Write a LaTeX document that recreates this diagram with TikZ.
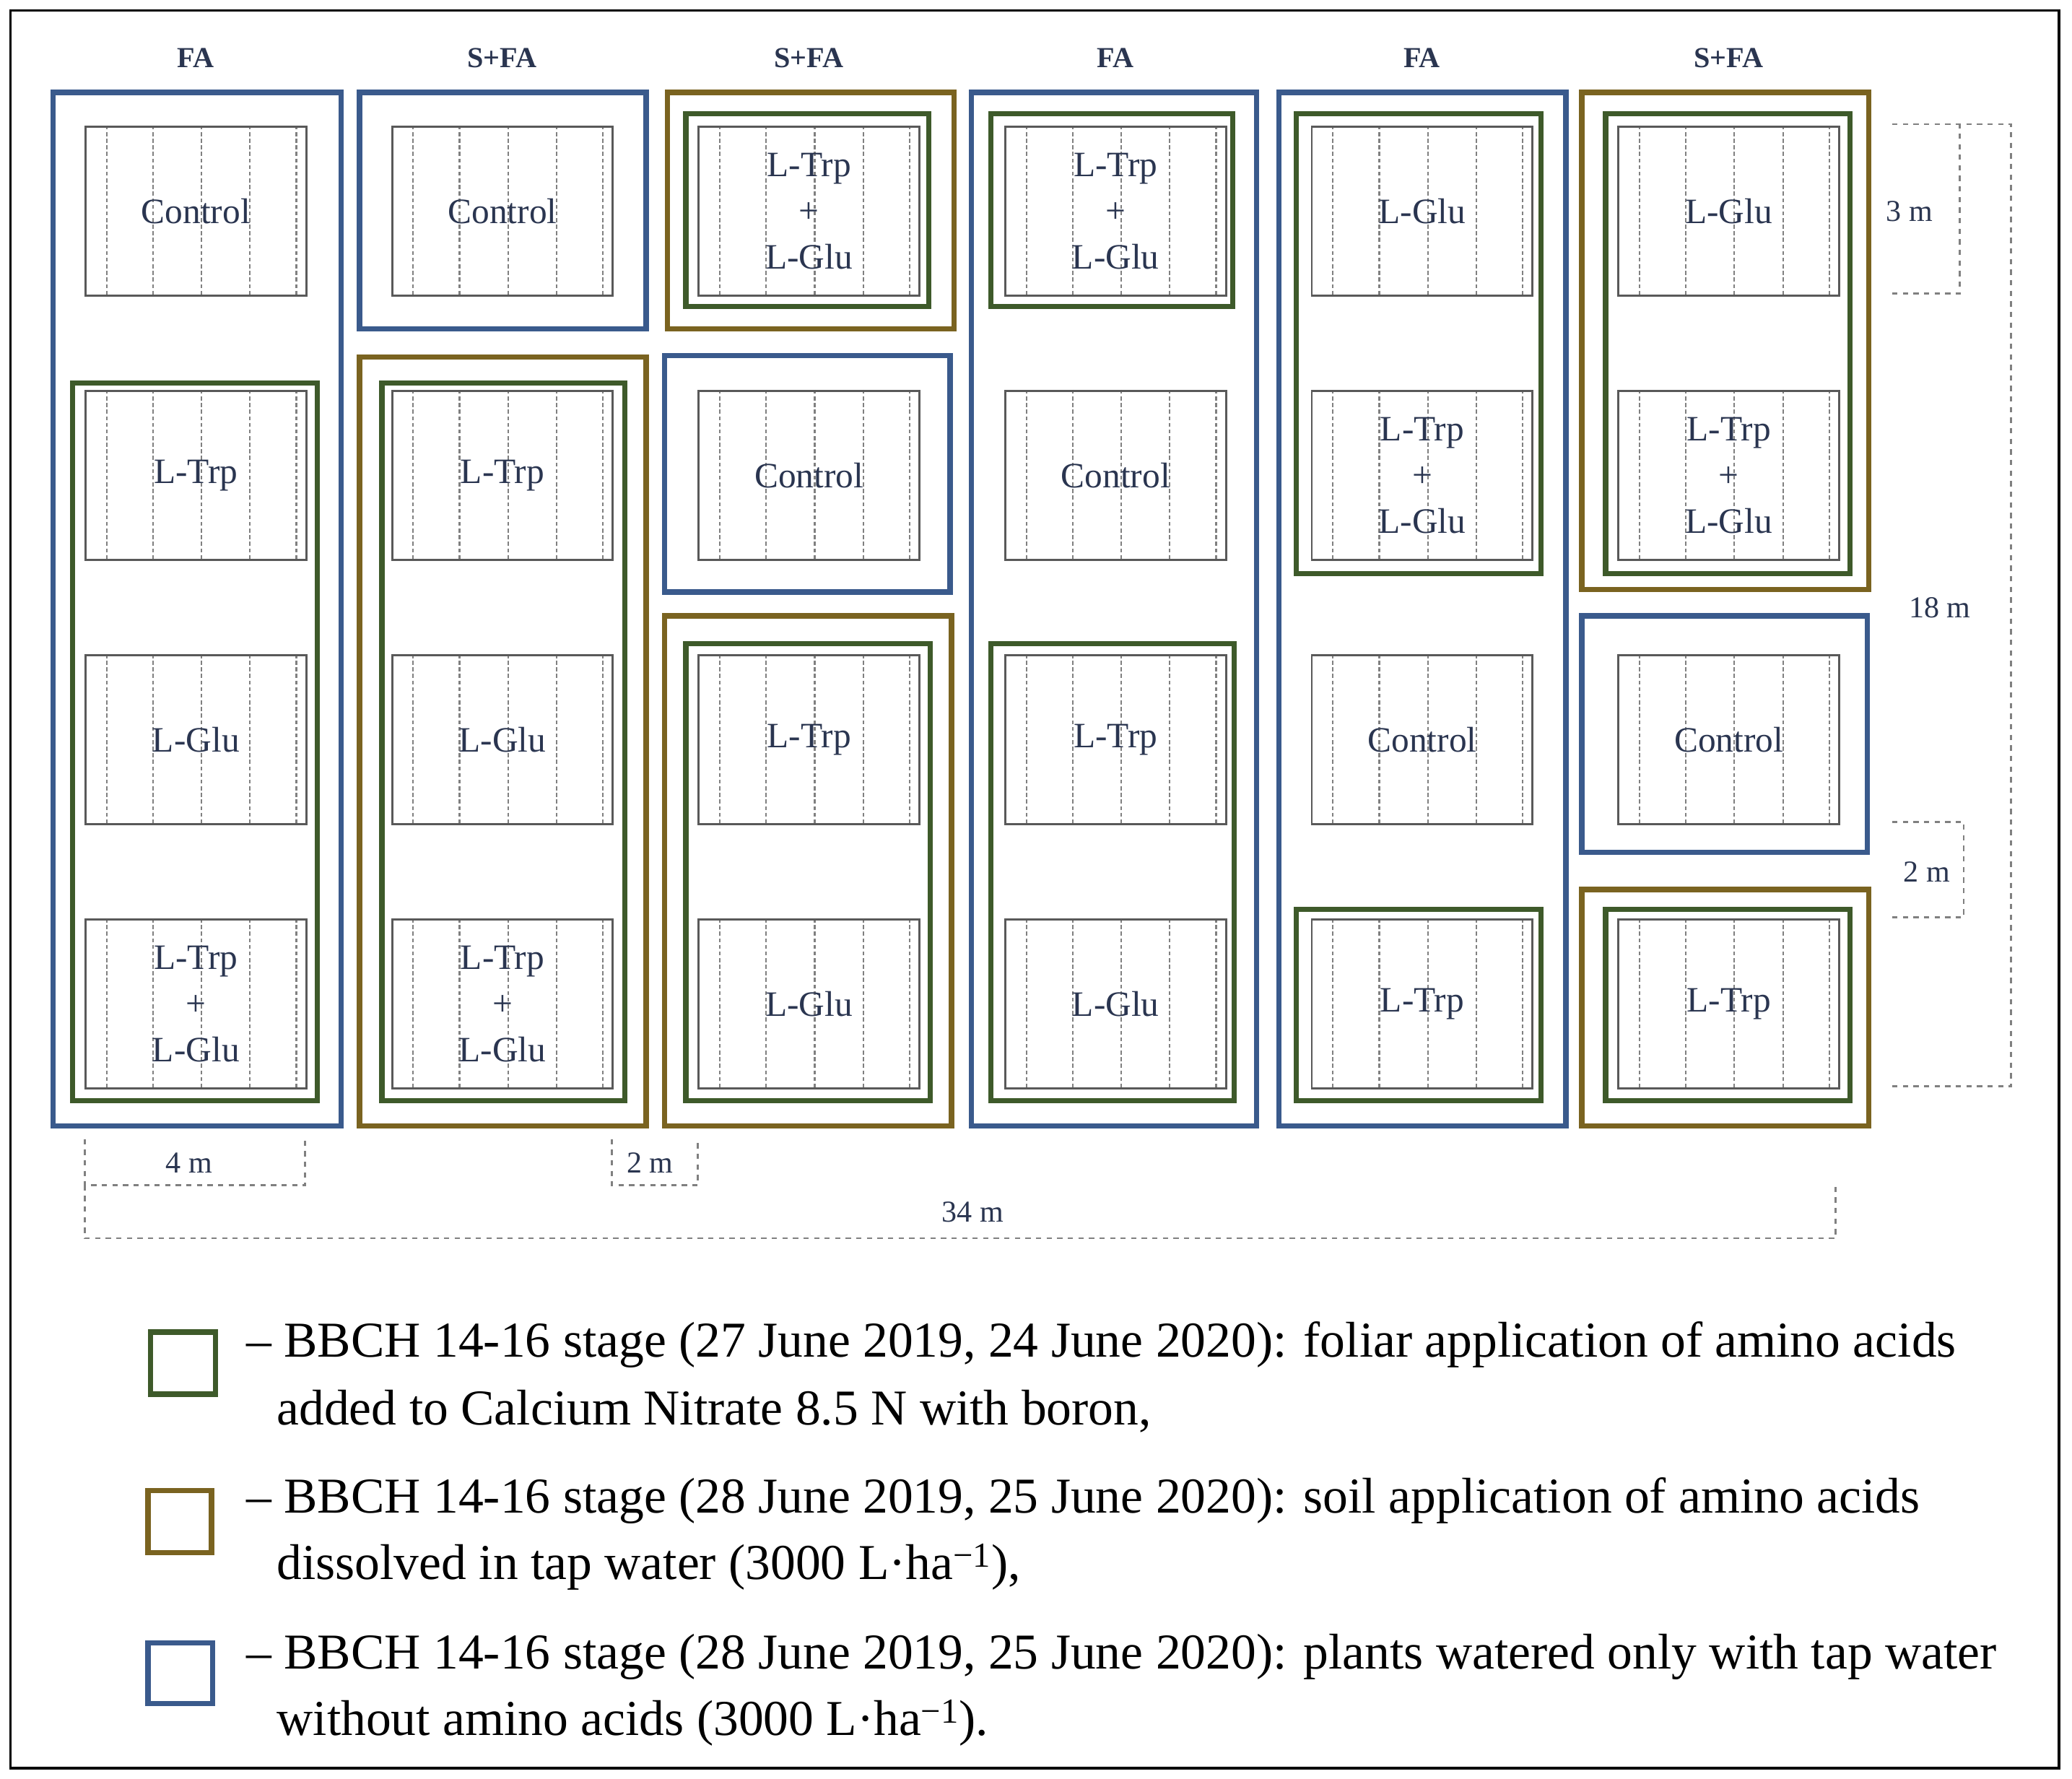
\documentclass[tikz,border=0pt]{standalone}
\usepackage{fontspec}
\setmainfont{Liberation Serif}
\begin{document}
\begin{tikzpicture}[x=1pt,y=-1pt,
  bl/.style={draw=cblue,line width=4pt},
  gr/.style={draw=cgreen,line width=4pt},
  go/.style={draw=cgold,line width=4pt},
  dim/.style={draw=gray,dashed,line width=1.5pt,dash pattern=on 4pt off 4pt},
  dimlab/.style={text=ctext,font=\fontsize{23}{24}\selectfont},
  hdr/.style={text=ctext,font=\fontsize{22}{24}\selectfont\bfseries},
  plab/.style={text=ctext,font=\fontsize{27}{35}\selectfont,align=center},
  leg/.style={anchor=base west,text=black,font=\fontsize{38}{40}\selectfont}]
\definecolor{cblue}{HTML}{3A5A8C}
\definecolor{cgreen}{HTML}{3E5A2A}
\definecolor{cgold}{HTML}{7A6320}
\definecolor{ctext}{HTML}{2A3550}
\useasboundingbox (0,0) rectangle (1568,1346);
\fill[white] (0,0) rectangle (1568,1346);
\draw[black,line width=2pt] (8,8) rectangle (1558,1338);
% headers
\foreach \t [count=\i] in {FA,S+FA,S+FA,FA,FA,S+FA}
  \node[hdr] (h\i) at ({148+232*(\i-1)},44) {\t};
% enclosures
\draw[bl] (40,70) rectangle (258,852); \draw[gr] (55,290) rectangle (240,833);
\draw[bl] (272,70) rectangle (489,249); \draw[go] (272,270) rectangle (489,852); \draw[gr] (289,290) rectangle (473,833);
\draw[go] (505,70) rectangle (722,249); \draw[gr] (519,86) rectangle (703,232); \draw[bl] (503,269) rectangle (719,448); \draw[go] (503,466) rectangle (720,852); \draw[gr] (519,487) rectangle (704,833);
\draw[bl] (735,70) rectangle (951,852); \draw[gr] (750,86) rectangle (933,232); \draw[gr] (750,487) rectangle (934,833);
\draw[bl] (968,70) rectangle (1185,852); \draw[gr] (981,86) rectangle (1166,434); \draw[gr] (981,688) rectangle (1166,833);
\draw[go] (1197,70) rectangle (1414,446); \draw[gr] (1215,86) rectangle (1400,434); \draw[bl] (1197,466) rectangle (1413,645); \draw[go] (1197,673) rectangle (1414,852); \draw[gr] (1215,688) rectangle (1400,833);
% plots
\def\TG{L-Trp\\+\\L-Glu}
\foreach \c/\r/\t in {1/1/Control,1/2/L-Trp,1/3/L-Glu,1/4/\TG,
  2/1/Control,2/2/L-Trp,2/3/L-Glu,2/4/\TG,
  3/1/\TG,3/2/Control,3/3/L-Trp,3/4/L-Glu,
  4/1/\TG,4/2/Control,4/3/L-Trp,4/4/L-Glu,
  5/1/L-Glu,5/2/\TG,5/3/Control,5/4/L-Trp,
  6/1/L-Glu,6/2/\TG,6/3/Control,6/4/L-Trp}{
  \pgfmathsetmacro\xx{64+232*(\c-1)}
  \pgfmathsetmacro\yy{95+200*(\r-1)}
  \foreach \f in {0.10,0.31,0.53,0.75,0.96}
    \draw[gray,line width=1.2pt,dash pattern=on 3pt off 2pt] ({\xx+167*\f},\yy) -- ({\xx+167*\f},\yy+128);
  \node[draw=black!65,line width=1.5pt,minimum width=167pt,minimum height=128pt,anchor=north west,inner sep=0pt] (p\c\r) at (\xx,\yy) {};
  \node[plab] at (p\c\r.center) {\t};
}
% right dims
\coordinate (r1) at (1432,94); \coordinate (r2) at (1522,94); \coordinate (r3) at (1522,822); \coordinate (r4) at (1432,822);
\draw[dim] (r1) -- (r2) -- (r3) -- (r4);
\draw[dim] (1432,222) -- (1483,222) -- (1483,94);
\draw[dim] (1432,622) -- (1486,622) -- (1486,694) -- (1432,694);
\node[dimlab] (d3) at (1445,160) {3 m};
\node[dimlab] (d18) at (1468,460) {18 m};
\node[dimlab] (d2r) at (1458,660) {2 m};
% bottom dims
\draw[dim] (64,862) -- (64,897) -- (231,897) -- (231,862);
\draw[dim] (463,862) -- (463,897) -- (528,897) -- (528,862);
\draw[dim] (64,897) -- (64,937) -- (1389,937) -- (1389,897);
\node[dimlab] (d4) at (143,880) {4 m};
\node[dimlab] (d2b) at (492,880) {2 m};
\node[dimlab] (d34) at (736,917) {34 m};
% legend
\draw[gr] (114,1008) rectangle (163,1055);
\draw[go] (112,1128) rectangle (160,1175);
\draw[bl] (112,1243) rectangle (161,1289);
\node[leg] (l1) at (183,1027) {– BBCH 14-16 stage (27 June 2019, 24 June 2020): foliar application of amino acids};
\node[leg] (l1b) at (206,1078) {added to Calcium Nitrate 8.5 N with boron,};
\node[leg] (l2) at (183,1145) {– BBCH 14-16 stage (28 June 2019, 25 June 2020): soil application of amino acids};
\node[leg] (l2b) at (206,1195) {dissolved in tap water (3000 L·ha\textsuperscript{−1}),};
\node[leg] (l3) at (183,1263) {– BBCH 14-16 stage (28 June 2019, 25 June 2020): plants watered only with tap water};
\node[leg] (l3b) at (206,1313) {without amino acids (3000 L·ha\textsuperscript{−1}).};
\end{tikzpicture}
\end{document}
